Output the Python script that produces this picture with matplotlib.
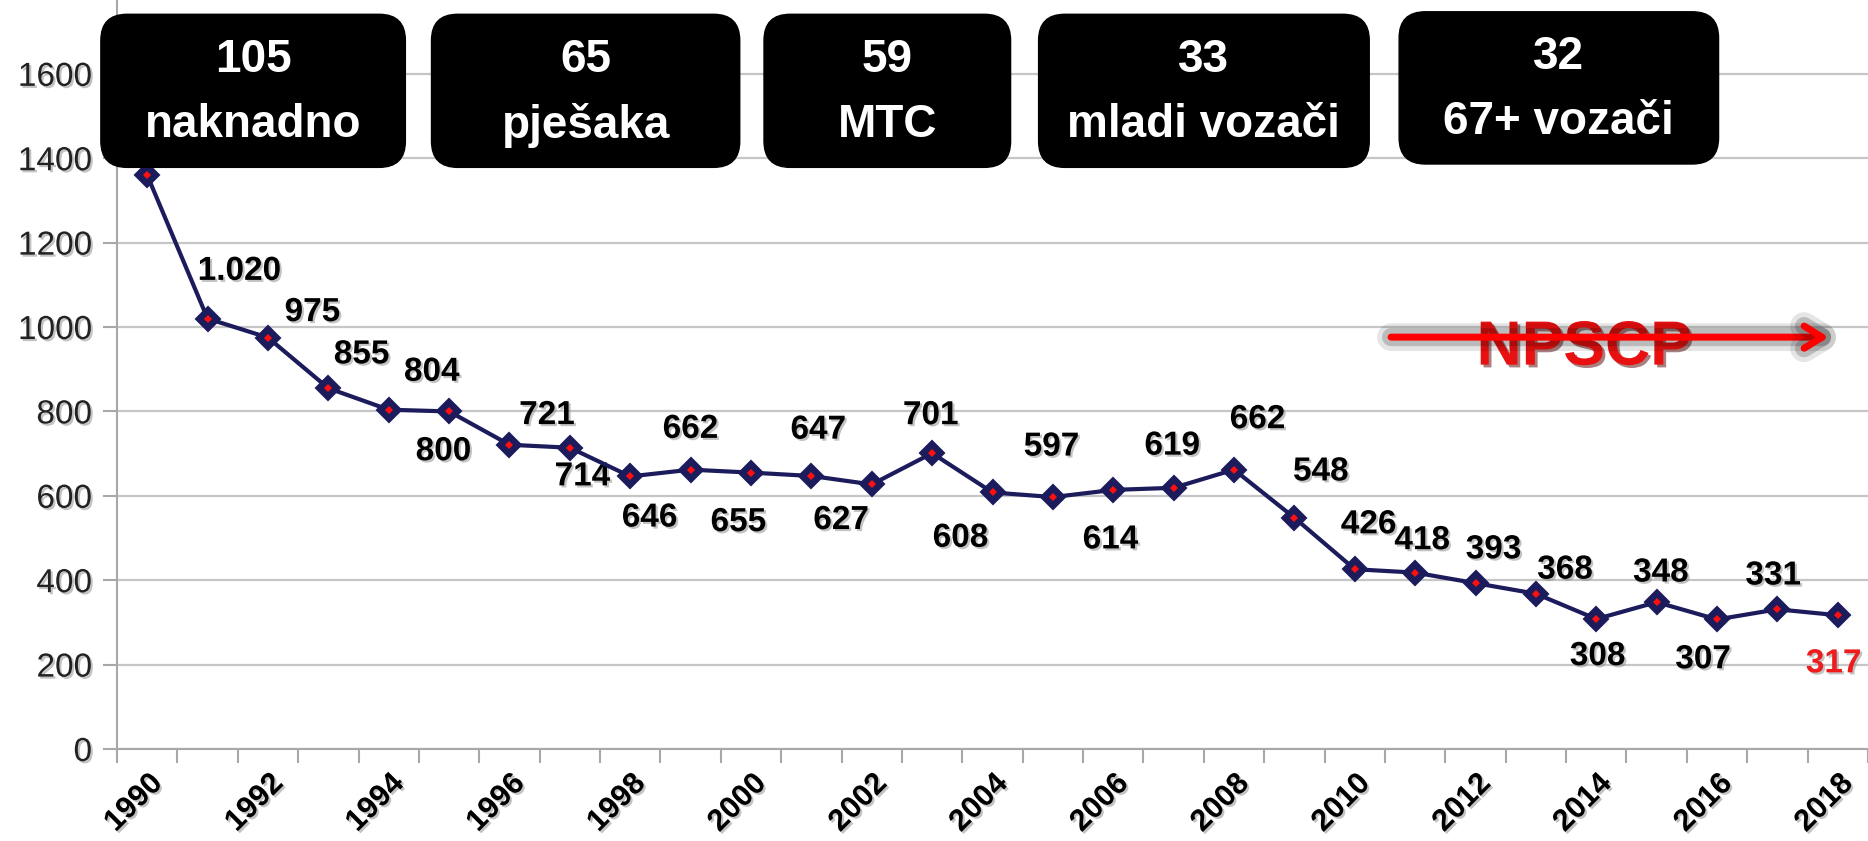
#!/usr/bin/env python

import matplotlib
matplotlib.use("Agg")
import matplotlib.pyplot as plt
import matplotlib.patheffects as pe
from matplotlib.patches import FancyBboxPatch

plt.rcParams["font.family"] = ["Liberation Sans", "DejaVu Sans"]

years = list(range(1990, 2019))
deaths = [1360, 1020, 975, 855, 804, 800, 721, 714, 646, 662, 655, 647, 627, 701,
          608, 597, 614, 619, 662, 548, 426, 418, 393, 368, 308, 348, 307, 331, 317]
point_labels = ["1.360", "1.020", "975", "855", "804", "800", "721", "714", "646", "662",
                "655", "647", "627", "701", "608", "597", "614", "619", "662", "548",
                "426", "418", "393", "368", "308", "348", "307", "331", "317"]
# label offsets (points) from each marker
label_offsets = [(20, 30), (23, 34), (32, 18), (24, 24), (31, 27), (-4, -29), (27, 21),
                 (9, -21), (14, -30), (0, 29), (-9, -36), (5, 33), (-22, -26), (-1, 27),
                 (-23, -33), (-1, 36), (-2, -36), (-1, 30), (17, 36), (19, 33), (10, 32),
                 (5, 23), (13, 24), (21, 17), (1, -27), (3, 21), (-10, -29), (-3, 24),
                 (-3, -35)]

box_numbers = ["105", "65", "59", "33", "32"]
box_names = ["naknadno", "pješaka", "MTC", "mladi vozači", "67+ vozači"]
# box extents in figure fraction: x0, x1, y0, y1
box_extents = [(0.054, 0.217, 0.801, 0.983), (0.231, 0.396, 0.801, 0.983),
               (0.409, 0.541, 0.801, 0.983), (0.556, 0.733, 0.801, 0.983),
               (0.749, 0.920, 0.805, 0.986)]

navy = "#1c1b5c"
grid_gray = "#c6c6c6"
shadow = [pe.withSimplePatchShadow(offset=(1.5, -1.5), shadow_rgbFace="#888888", alpha=0.5)]

fig = plt.figure(figsize=(18.68, 8.41), dpi=100)
ax = fig.add_axes([117 / 1868, 92 / 841, 1 - 117 / 1868, 1 - 92 / 841])

x = list(range(len(years)))
ax.plot(x, deaths, "-", color=navy, linewidth=3, zorder=3)
ax.plot(x, deaths, "D", color=navy, markersize=12, markeredgewidth=1.5,
        markeredgecolor=navy, zorder=4)
ax.plot(x, deaths, "D", color="#ff1010", markersize=4, markeredgewidth=0, zorder=5)

for i, (val, lab) in enumerate(zip(deaths, point_labels)):
    col = "#ee1c1c" if i == len(deaths) - 1 else "black"
    ax.annotate(lab, (x[i], val), xytext=label_offsets[i], textcoords="offset points",
                ha="center", va="center", fontsize=24, fontweight="bold", color=col,
                path_effects=shadow, zorder=2)

ax.set_xlim(-0.5, 28.5)
ax.set_ylim(0, 1775)
ax.set_yticks(range(0, 1601, 200))
ax.set_yticklabels([str(v) for v in range(0, 1601, 200)], fontsize=24, color="#222222")
for t in ax.get_yticklabels():
    t.set_path_effects(shadow)

ax.set_xticks(x[::2])
ax.set_xticklabels([str(y) for y in years[::2]], rotation=45, ha="right", va="top",
                   rotation_mode="anchor", fontsize=22, fontweight="bold")
for t in ax.get_xticklabels():
    t.set_path_effects(shadow)
ax.set_xticks([i - 0.5 for i in range(len(years) + 1)], minor=True)
ax.tick_params(axis="x", which="major", length=0, pad=14)
ax.tick_params(axis="x", which="minor", length=10, width=1.5, color="#a8a8a8")
ax.tick_params(axis="y", length=10, width=1.5, color="#a8a8a8", pad=8)

ax.grid(axis="y", color=grid_gray, linewidth=1.6, zorder=0)
ax.set_axisbelow(True)
for side in ["top", "right"]:
    ax.spines[side].set_visible(False)
for side in ["left", "bottom"]:
    ax.spines[side].set_color("#a8a8a8")
    ax.spines[side].set_linewidth(1.5)

# NPSCP arrow
ax.annotate("", xy=(27.85, 976), xytext=(20.6, 976),
            arrowprops=dict(arrowstyle="->,head_length=1.3,head_width=0.8", color="#ff0000",
                            lw=5, shrinkA=0, shrinkB=0,
                            path_effects=[pe.Stroke(linewidth=20, foreground="#000000", alpha=0.10),
                                          pe.Stroke(linewidth=13, foreground="#000000", alpha=0.18),
                                          pe.Normal()]),
            zorder=6)
ax.text(23.8, 950, "NPSCP", ha="center", va="center", fontsize=45, fontweight="bold",
        color="#e81010", zorder=5,
        path_effects=[pe.withSimplePatchShadow(offset=(2, -2), shadow_rgbFace="#550000", alpha=0.5)])

# black boxes at the top
for (x0, x1, y0, y1), num, name in zip(box_extents, box_numbers, box_names):
    box = FancyBboxPatch((x0, y0), x1 - x0, y1 - y0, boxstyle="round,pad=0,rounding_size=0.014",
                         transform=fig.transFigure, facecolor="black", edgecolor="black",
                         mutation_aspect=1868 / 841, zorder=10)
    fig.patches.append(box)
    xc = (x0 + x1) / 2
    yc = (y0 + y1) / 2
    fig.text(xc, yc + 0.037, num, ha="center", va="center", color="white",
             fontsize=33, fontweight="bold", zorder=11)
    fig.text(xc, yc - 0.041, name, ha="center", va="center", color="white",
             fontsize=33, fontweight="bold", zorder=11)

fig.savefig("out.png", dpi=100)
